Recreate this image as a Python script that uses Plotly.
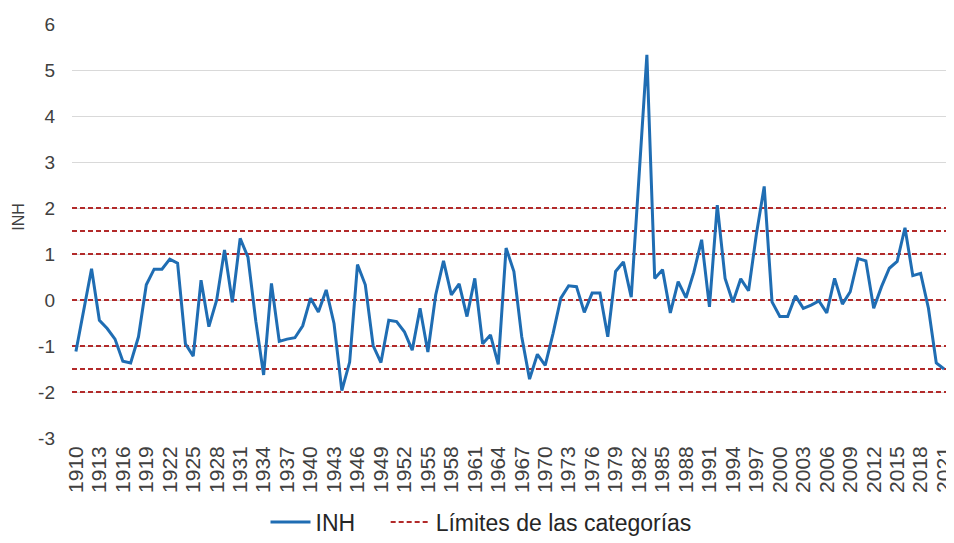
import plotly.graph_objects as go

years = list(range(1910, 2022))
inh = [
    -1.12, -0.22, 0.68, -0.44, -0.62, -0.85, -1.33, -1.37, -0.80, 0.33,   # 1910-1919
    0.67, 0.67, 0.89, 0.80, -0.95, -1.22, 0.43, -0.58, 0.00, 1.09,        # 1920-1929
    -0.05, 1.34, 0.93, -0.46, -1.63, 0.36, -0.90, -0.85, -0.82, -0.56,    # 1930-1939
    0.04, -0.26, 0.22, -0.51, -1.97, -1.35, 0.77, 0.33, -0.99, -1.36,     # 1940-1949
    -0.44, -0.47, -0.69, -1.09, -0.18, -1.13, 0.11, 0.85, 0.11, 0.35,     # 1950-1959
    -0.36, 0.47, -0.95, -0.76, -1.40, 1.13, 0.62, -0.80, -1.72, -1.18,    # 1960-1969
    -1.42, -0.73, 0.04, 0.31, 0.29, -0.27, 0.15, 0.15, -0.80, 0.62,       # 1970-1979
    0.83, 0.06, 2.70, 5.33, 0.47, 0.66, -0.28, 0.40, 0.05, 0.60,          # 1980-1989
    1.31, -0.15, 2.06, 0.47, -0.05, 0.46, 0.20, 1.43, 2.47, -0.04,        # 1990-1999
    -0.36, -0.36, 0.09, -0.18, -0.11, -0.02, -0.28, 0.47, -0.09, 0.18,    # 2000-2009
    0.90, 0.85, -0.18, 0.29, 0.69, 0.84, 1.57, 0.53, 0.58, -0.18,         # 2010-2019
    -1.37, -1.50,                                                          # 2020-2021
]
limits = [2, 1.5, 1, 0, -1, -1.5, -2]
tick_years = list(range(1910, 2022, 3))
y_ticks = list(range(-3, 7))

x_lo = years[0] - 0.5
x_hi = years[-1] + 0.5

lim_x, lim_y = [], []
for v in limits:
    lim_x += [x_lo, x_hi, None]
    lim_y += [v, v, None]

FONT = "Liberation Sans, Arial, sans-serif"
NB = "\u00a0"

fig = go.Figure()
fig.add_trace(go.Scatter(
    x=lim_x, y=lim_y, mode="lines", name="Límites de las categorías",
    line=dict(color="#B22A2A", width=2, dash="5px,3px"),
    connectgaps=False, hoverinfo="skip",
))
fig.add_trace(go.Scatter(
    x=years, y=inh, mode="lines", name="INH" + NB * 4,
    line=dict(color="#1F6DB3", width=3),
))

# page body has an 8px default margin, so the figure is sized/offset to compensate
fig.update_layout(
    width=946, height=535,
    margin=dict(l=64, r=6, t=16, b=105, autoexpand=False),
    paper_bgcolor="white", plot_bgcolor="white",
    font=dict(family=FONT, color="#404040"),
    legend=dict(
        orientation="h", xref="container", yref="container",
        x=0.5, xanchor="center", y=0.0393, yanchor="middle",
        traceorder="reversed", font=dict(size=23, color="#262626"),
        itemwidth=40,
    ),
    showlegend=True,
    annotations=[dict(
        text="INH", textangle=-90, xref="paper", yref="paper",
        x=-0.0615, y=0.535, xanchor="center", yanchor="middle", showarrow=False,
        font=dict(size=16, color="#404040"),
    )],
)
fig.update_xaxes(
    range=[x_lo, x_hi], tickmode="array", tickvals=tick_years,
    ticktext=[str(t) for t in tick_years], tickangle=-90,
    tickfont=dict(size=21, color="#404040"), showgrid=False, zeroline=False,
    showline=False, ticks="", automargin=False, ticklabeloverflow="allow",
    ticklabelstandoff=3,
)
fig.update_yaxes(
    range=[-3, 6], tickmode="array", tickvals=y_ticks,
    ticktext=[str(v) for v in y_ticks],
    tickfont=dict(size=19, color="#404040"), showgrid=True, gridcolor="#D9D9D9",
    gridwidth=1, zeroline=False, showline=False, ticks="", automargin=False,
    ticklabelstandoff=16,
)

fig.write_html("out.html")
